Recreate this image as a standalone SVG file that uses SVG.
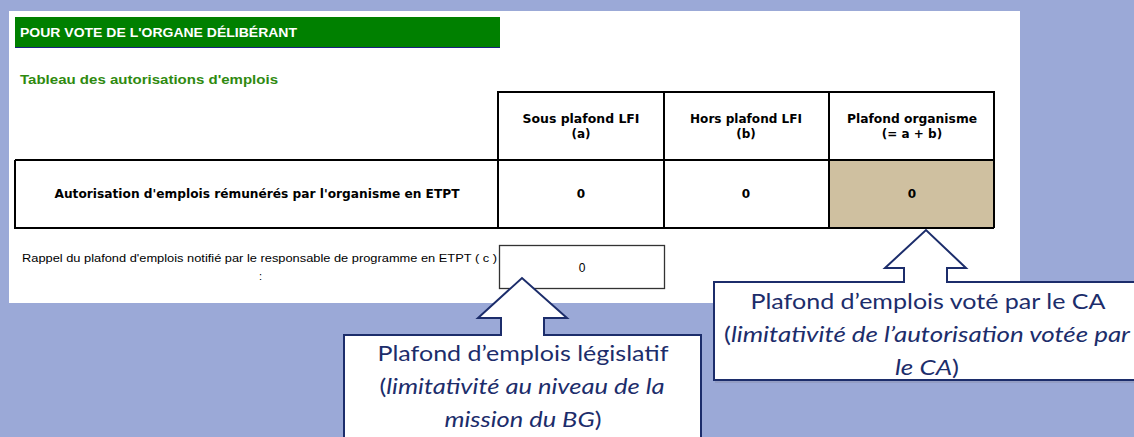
<svg xmlns="http://www.w3.org/2000/svg" width="1134" height="437" viewBox="0 0 1134 437">
<style>
.tb{font-family:"DejaVu Sans",Verdana,sans-serif;font-weight:bold;font-size:12px;fill:#000;text-anchor:middle}
.cell{fill:none;stroke:#000;stroke-width:2}
.call{fill:#fff;stroke:#1c2d6b;stroke-width:2;stroke-linejoin:miter}
.ct{font-family:Lato,"Open Sans",sans-serif;font-size:21px;fill:#1c2d6b;text-anchor:middle}
</style>
<rect width="1134" height="437" fill="#9ba9d7"/>
<g id="panel">
<rect x="9" y="11" width="1011" height="292" fill="#fff"/>
</g>
<g id="title">
<rect x="15" y="17" width="485" height="31" fill="#008000"/>
<line x1="15" y1="47.5" x2="500" y2="47.5" stroke="#1a237e" stroke-width="1"/>
<text x="20" y="37" font-family="Liberation Sans,Arial,sans-serif" font-size="13px" font-weight="bold" fill="#fff" textLength="277" lengthAdjust="spacingAndGlyphs">POUR VOTE DE L'ORGANE DÉLIBÉRANT</text>
<text x="20" y="84" font-family="Liberation Sans,Arial,sans-serif" font-size="12px" font-weight="bold" fill="#2f8a10" textLength="258" lengthAdjust="spacingAndGlyphs">Tableau des autorisations d'emplois</text>
</g>
<g id="table">
<rect x="829" y="160" width="165" height="68" fill="#cfc0a0"/>
<path class="cell" d="M498,228 V92 H994 V228 M664,92 V228 M829,92 V228 M15,160 H994 M15,160 V228 H994"/>
<text class="tb" x="581" y="123" textLength="117" lengthAdjust="spacingAndGlyphs">Sous plafond LFI</text>
<text class="tb" x="581" y="138">(a)</text>
<text class="tb" x="746" y="123" textLength="112" lengthAdjust="spacingAndGlyphs">Hors plafond LFI</text>
<text class="tb" x="746" y="138">(b)</text>
<text class="tb" x="912" y="123" textLength="130" lengthAdjust="spacingAndGlyphs">Plafond organisme</text>
<text class="tb" x="912" y="138">(= a + b)</text>
<text class="tb" x="257" y="198" textLength="405" lengthAdjust="spacingAndGlyphs">Autorisation d'emplois rémunérés par l'organisme en ETPT</text>
<text class="tb" x="581" y="198">0</text>
<text class="tb" x="746" y="198">0</text>
<text class="tb" x="912" y="198">0</text>
</g>
<g id="rappel">
<text x="497" y="262" font-family="Liberation Sans,Arial,sans-serif" font-size="11px" fill="#000" text-anchor="end" textLength="475" lengthAdjust="spacingAndGlyphs">Rappel du plafond d'emplois notifié par le responsable de programme en ETPT ( c )</text>
<text x="259" y="280" font-family="Liberation Sans,Arial,sans-serif" font-size="11px" fill="#000">:</text>
<rect x="499.5" y="245.5" width="165" height="43" fill="#fff" stroke="#333" stroke-width="1.3"/>
<text x="582" y="272" font-family="Liberation Sans,Arial,sans-serif" font-size="12px" fill="#000" text-anchor="middle">0</text>
</g>
<g id="callout-left">
<path class="call" d="M344,445 V335 H501 V318 H478 L522,278 L567,318 H544 V335 H701 V445 Z"/>
<text class="ct" x="523" y="361" textLength="291" lengthAdjust="spacingAndGlyphs">Plafond d’emplois législatif</text>
<text class="ct" x="522" y="394" textLength="285" lengthAdjust="spacingAndGlyphs">(<tspan font-style="italic">limitativité au niveau de la</tspan></text>
<text class="ct" x="523" y="427" textLength="157" lengthAdjust="spacingAndGlyphs"><tspan font-style="italic">mission du BG</tspan>)</text>
</g>
<g id="callout-right">
<path d="M716,382 V284 H1140 V382 Z" fill="none" stroke="#8d96b8" stroke-width="2" opacity="0.6"/>
<path class="call" d="M714,380 V282 H904 V268 H885 L926,230 L966,268 H947 V282 H1140 V380 Z"/>
<text class="ct" x="928" y="309" textLength="355" lengthAdjust="spacingAndGlyphs">Plafond d’emplois voté par le CA</text>
<text class="ct" x="927" y="342" textLength="406" lengthAdjust="spacingAndGlyphs">(<tspan font-style="italic">limitativité de l’autorisation votée par</tspan></text>
<text class="ct" x="927" y="375" textLength="64" lengthAdjust="spacingAndGlyphs"><tspan font-style="italic">le CA</tspan>)</text>
</g>
</svg>
